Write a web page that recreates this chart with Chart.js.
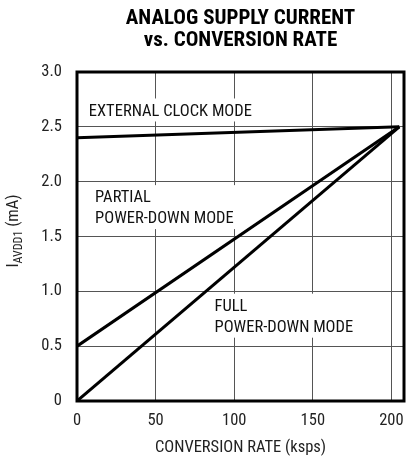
<!DOCTYPE html>
<html>
<head>
<meta charset="utf-8">
<script src="https://cdn.jsdelivr.net/npm/chart.js@4"></script>
<style>
  html, body { margin: 0; padding: 0; background: #fff; }
  #wrap { width: 406px; height: 462px; }
</style>
</head>
<body>
<div id="wrap"><canvas id="chart" width="406" height="462"></canvas></div>
<script>
// values
const rates = [0, 205];                 // ksps
const externalClock = [2.4, 2.5];       // mA
const partialPowerDown = [0.5, 2.5];
const fullPowerDown = [0, 2.5];
const xTicks = [0, 50, 100, 150, 200];
const yTicks = [0, 0.5, 1.0, 1.5, 2.0, 2.5, 3.0];

const FONT = "'Roboto Condensed', 'Liberation Sans', sans-serif";

const toPoints = ys => rates.map((x, i) => ({ x: x, y: ys[i] }));

const labels = [
    { x: 7.5, y: 2.64, lines: ['EXTERNAL CLOCK MODE'] },
    { x: 11.5, y: 1.85, lines: ['PARTIAL', 'POWER-DOWN MODE'] },
    { x: 87.5, y: 0.86, lines: ['FULL', 'POWER-DOWN MODE'] }
];

const decor = {
    id: 'decor',
    beforeDatasetsDraw(chart) {
        const c = chart.ctx, xs = chart.scales.x, ys = chart.scales.y;
        c.save();
        c.font = '16.5px ' + FONT;
        c.textBaseline = 'middle';
        c.textAlign = 'left';
        labels.forEach(l => {
            const x0 = xs.getPixelForValue(l.x);
            const y0 = ys.getPixelForValue(l.y);
            const w = Math.max(...l.lines.map(t => c.measureText(t).width));
            c.fillStyle = '#fff';
            c.fillRect(x0 - 2, y0 - 13, w + 4, 21 * (l.lines.length - 1) + 23);
            c.fillStyle = '#111';
            l.lines.forEach((t, i) => c.fillText(t, x0, y0 + i * 21));
        });
        c.restore();
    },
    afterDatasetsDraw(chart) {
        const c = chart.ctx, a = chart.chartArea;
        c.save();
        c.strokeStyle = '#000';
        c.lineWidth = 3;
        c.strokeRect(a.left, a.top, a.right - a.left, a.bottom - a.top);
        c.restore();
    },
    afterDraw(chart) {
        const c = chart.ctx, a = chart.chartArea;
        const cx = (a.left + a.right) / 2;
        c.save();
        c.fillStyle = '#000';
        c.textAlign = 'center';
        c.textBaseline = 'middle';
        c.font = 'bold 21px ' + FONT;
        c.fillText('ANALOG SUPPLY CURRENT', cx, 19);
        c.fillText('vs. CONVERSION RATE', cx, 41);

        c.fillStyle = '#222';
        c.font = '16.5px ' + FONT;
        c.fillText('CONVERSION RATE (ksps)', cx, 448);

        // y title with subscript
        const main1 = 'I', sub = 'AVDD1', main2 = ' (mA)';
        c.font = '16.5px ' + FONT;
        const w1 = c.measureText(main1).width, w3 = c.measureText(main2).width;
        c.font = '12px ' + FONT;
        const w2 = c.measureText(sub).width;
        const total = w1 + w2 + w3;
        c.translate(14, 231);
        c.rotate(-Math.PI / 2);
        c.textAlign = 'left';
        let px = -total / 2;
        c.font = '16.5px ' + FONT;
        c.fillText(main1, px, 0); px += w1;
        c.font = '12px ' + FONT;
        c.fillText(sub, px, 5); px += w2;
        c.font = '16.5px ' + FONT;
        c.fillText(main2, px, 0);
        c.restore();
    }
};

const lineSet = (label, ys) => ({
    label: label,
    data: toPoints(ys),
    showLine: true,
    borderColor: '#000',
    borderWidth: 3,
    pointRadius: 0,
    tension: 0
});

new Chart(document.getElementById('chart'), {
    type: 'scatter',
    data: {
        datasets: [
            lineSet('External clock mode', externalClock),
            lineSet('Partial power-down mode', partialPowerDown),
            lineSet('Full power-down mode', fullPowerDown)
        ]
    },
    options: {
        responsive: false,
        animation: false,
        layout: { padding: { top: 72, right: 2, left: 0, bottom: 0 } },
        plugins: { legend: { display: false }, tooltip: { enabled: false } },
        scales: {
            x: {
                type: 'linear', min: 0, max: 208,
                afterBuildTicks: s => { s.ticks = xTicks.map(v => ({ value: v })); },
                afterFit: s => { s.height = 61; s.paddingLeft = 0; s.paddingRight = 0; },
                grid: { color: '#555', lineWidth: 1, drawTicks: false },
                border: { display: false },
                ticks: { padding: 10, color: '#222', font: { family: FONT, size: 16.5 } }
            },
            y: {
                type: 'linear', min: 0, max: 3,
                afterBuildTicks: s => { s.ticks = yTicks.map(v => ({ value: v })); },
                afterFit: s => { s.width = 77; s.paddingTop = 0; s.paddingBottom = 0; },
                grid: { color: '#555', lineWidth: 1, drawTicks: false },
                border: { display: false },
                ticks: {
                    padding: 15, color: '#222', font: { family: FONT, size: 16.5 },
                    callback: v => v === 0 ? '0' : v.toFixed(1)
                }
            }
        }
    },
    plugins: [decor]
});
</script>
</body>
</html>
